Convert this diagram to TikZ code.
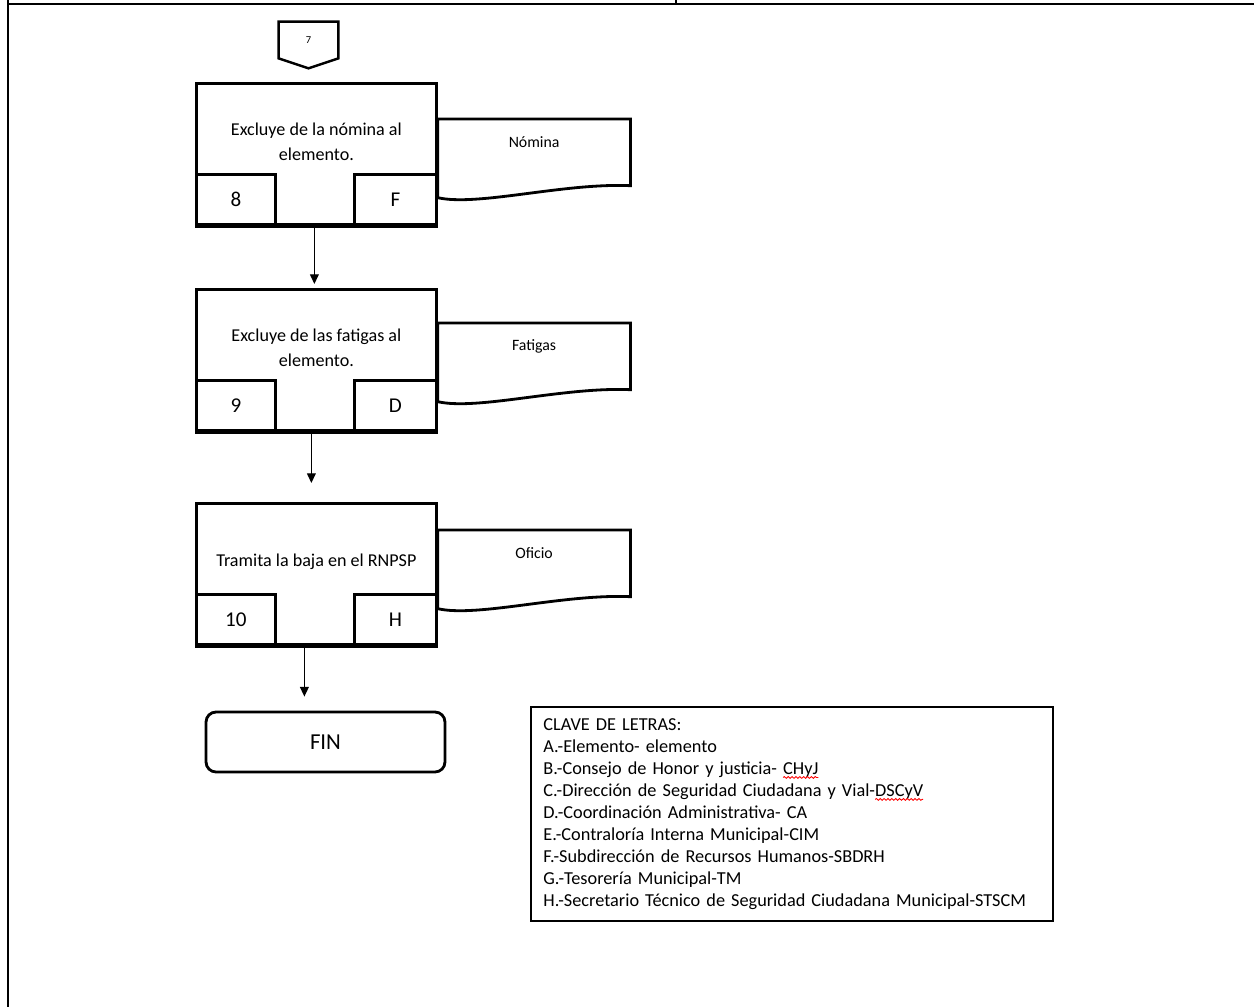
\documentclass[tikz,border=0pt]{standalone}
\usepackage{fontspec}
\setmainfont{Carlito}
\usetikzlibrary{arrows.meta, positioning, calc, decorations.pathmorphing}
\tikzset{
  marco/.style={line width=1.3pt},
  linea/.style={line width=1.6pt},
  proceso/.style={draw, line width=1.6pt, minimum width=4.8cm, minimum height=2.82cm, inner sep=0pt},
  subcaja/.style={draw, line width=1.6pt, minimum height=1cm, inner sep=0pt, font=\fontsize{12}{14}\selectfont},
  texto/.style={align=center, font=\fontsize{10.3}{14}\selectfont},
  documento/.style={minimum width=3.84cm, minimum height=1.32cm, inner sep=0pt},
  doctexto/.style={font=\fontsize{9}{11}\selectfont},
  flecha/.style={-{Triangle[length=5.5pt,width=5pt]}, line width=0.7pt},
  fin/.style={draw, line width=1.6pt, rounded corners=0.2cm, minimum width=4.78cm, minimum height=1.2cm,
              font=\fontsize{13}{15}\selectfont},
  clave/.style={draw, line width=1pt, align=left, text width=9.94cm, inner xsep=0.25cm,
                minimum height=4.28cm, font=\fontsize{10.4}{12.5}\selectfont},
  ondita/.style={red, line width=0.5pt, decorate, decoration={snake, amplitude=0.5pt, segment length=2.2pt}},
}
% subrayado ondulado rojo
\newsavebox{\cajaerr}
\newcommand{\errmarca}[1]{\sbox{\cajaerr}{#1}\usebox{\cajaerr}%
  \tikz[overlay]\draw[ondita] (-\wd\cajaerr,-1.8pt) -- (0pt,-1.8pt);}

\begin{document}
\begin{tikzpicture}[x=0.02cm, y=-0.02cm]
\useasboundingbox (0,0) rectangle (1254,1007);
% marco de la hoja
\draw[marco] (8,0) -- (8,1007);
\draw[marco] (8,4) -- (1254,4);
\draw[marco] (676,0) -- (676,4);

% conector de pagina
\node[minimum width=1.18cm, minimum height=0.72cm, inner sep=0pt, font=\fontsize{6}{7}\selectfont] (c7) at (308.5,40) {7};
\draw[linea, line width=1.4pt] (c7.south west) -- (c7.north west) -- (c7.north east) -- (c7.south east)
  -- ([yshift=-0.2cm]c7.south) -- cycle;

% pasos 8 a 10
\foreach \i/\y/\dy/\txt/\num/\area/\docu in {
  1/82/37/{Excluye de la nómina al\\elemento.}/8/F/Nómina,
  2/288/35/{Excluye de las fatigas al\\elemento.}/9/D/Fatigas,
  3/502/28/{Tramita la baja en el RNPSP}/10/H/Oficio}{
  \node[proceso, anchor=north west] (p\i) at (195,\y) {};
  \node[texto] (t\i) at ([yshift=-1.2cm]p\i.north) {\txt};
  \node[subcaja, minimum width=1.58cm, anchor=south west] (n\i) at (p\i.south west) {\num};
  \node[subcaja, minimum width=1.64cm, anchor=south east] (a\i) at (p\i.south east) {\area};
  \draw[line width=2.8pt] (p\i.south west) -- (p\i.south east);
  % documento
  \node[documento, anchor=north west] (d\i) at ($(p\i.north east)+(0,\dy)$) {};
  \draw[linea] (d\i.north west) -- (d\i.north east) -- (d\i.south east)
    .. controls +(-67,-3) and +(40,9) .. ([yshift=-0.24cm]d\i.south west) -- (d\i.north west);
  \node[doctexto] (dt\i) at ([yshift=-0.46cm]d\i.north) {\docu};
}

% fin
\node[fin] (fin) at (325.5,742) {FIN};

% flechas
\draw[flecha, shorten >=0.08cm] ([xshift=-0.04cm]p1.south) -- ([xshift=-0.04cm]p1.south |- p2.north);
\draw[flecha, shorten >=0.38cm] ([xshift=-0.1cm]p2.south) -- ([xshift=-0.1cm]p2.south |- p3.north);
\draw[flecha, shorten >=0.28cm] ([xshift=-0.24cm]p3.south) -- ([xshift=-0.24cm]p3.south |- fin.north);

% clave de letras
\node[clave, anchor=north west] (leyenda) at (530,706) {CLAVE DE LETRAS:\\
A.-Elemento- elemento\\
B.-Consejo de Honor y justicia- \errmarca{CHyJ}\\
C.-Dirección de Seguridad Ciudadana y Vial-\errmarca{DSCyV}\\
D.-Coordinación Administrativa- CA\\
E.-Contraloría Interna Municipal-CIM\\
F.-Subdirección de Recursos Humanos-SBDRH\\
G.-Tesorería Municipal-TM\\
H.-Secretario Técnico de Seguridad Ciudadana Municipal-STSCM};
\end{tikzpicture}
\end{document}
